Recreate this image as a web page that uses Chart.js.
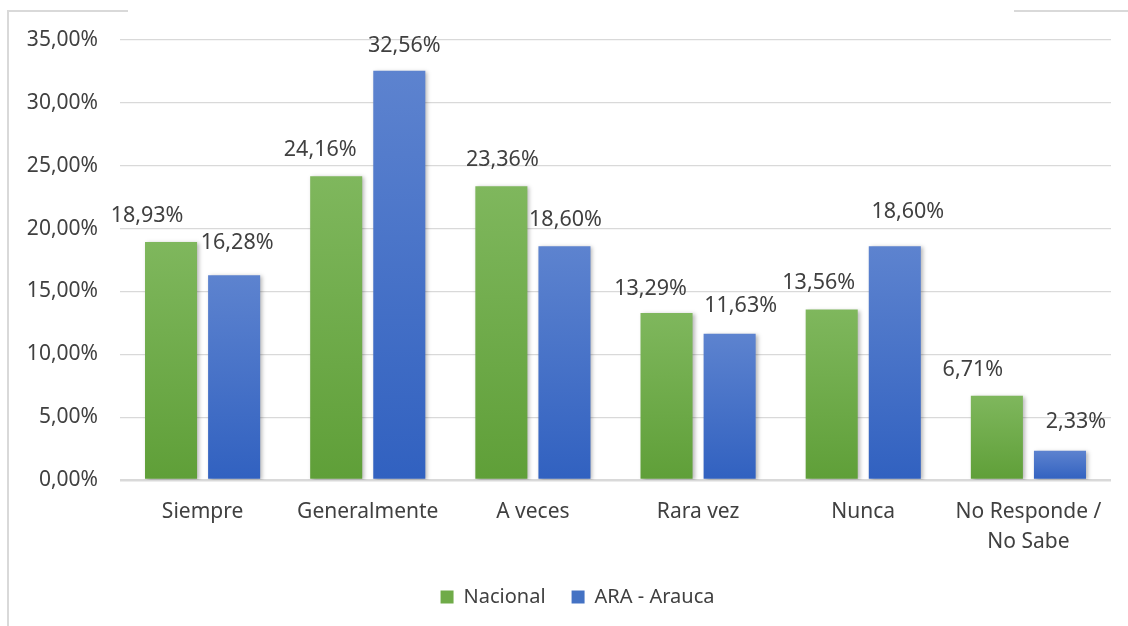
<!DOCTYPE html>
<html lang="es">
<head>
    <meta charset="UTF-8">
    <title>Frecuencia - Nacional vs ARA - Arauca</title>
    <script src="https://cdn.jsdelivr.net/npm/chart.js"></script>
    <style>
        body {
            margin: 0;
            padding: 0;
            background: #fff;
        }

        .wrap {
            position: relative;
            width: 1128px;
            height: 626px;
        }

        /* restos del marco gris del recuadro */
        .frame-left {
            position: absolute;
            left: 7px;
            top: 10px;
            width: 2px;
            height: 616px;
            background: #d9d9d9;
        }

        .frame-top1 {
            position: absolute;
            left: 7px;
            top: 10px;
            width: 121px;
            height: 2px;
            background: #d9d9d9;
        }

        .frame-top2 {
            position: absolute;
            left: 1014px;
            top: 10px;
            width: 114px;
            height: 2px;
            background: #d9d9d9;
        }

        canvas {
            position: absolute;
            left: 0;
            top: 0;
        }
    </style>
</head>
<body>
    <div class="wrap">
        <canvas id="grafico" width="1128" height="626"></canvas>
        <div class="frame-left"></div>
        <div class="frame-top1"></div>
        <div class="frame-top2"></div>
    </div>

    <script>
        // Datos
        const categorias = ['Siempre', 'Generalmente', 'A veces', 'Rara vez', 'Nunca', ['No Responde /', 'No Sabe']];
        const nacional = [18.93, 24.16, 23.36, 13.29, 13.56, 6.71];
        const arauca = [16.28, 32.56, 18.60, 11.63, 18.60, 2.33];
        const ticksY = [0, 5, 10, 15, 20, 25, 30, 35];

        const fmt = v => v.toFixed(2).replace('.', ',') + '%';
        const texto = '#404040';
        const fuente = "'Noto Sans', sans-serif";

        // degradado vertical por barra (más claro arriba)
        function degradado(arriba, abajo) {
            return function (ctx) {
                const chart = ctx.chart;
                if (!chart.chartArea || ctx.raw === undefined) return abajo;
                const y = chart.scales.y;
                const g = chart.ctx.createLinearGradient(0, y.getPixelForValue(ctx.raw), 0, y.getPixelForValue(0));
                g.addColorStop(0, arriba);
                g.addColorStop(1, abajo);
                return g;
            };
        }

        // sombra de las barras + etiquetas de valor
        const etiquetas = {
            id: 'etiquetas',
            afterLayout(chart) {
                // la leyenda va un poco corrida a la derecha
                chart.legend.left += 22;
                chart.legend.right += 22;
            },
            beforeDatasetsDraw(chart) {
                const c = chart.ctx;
                c.save();
                c.shadowColor = 'rgba(0,0,0,0.28)';
                c.shadowBlur = 4;
                c.shadowOffsetX = 2;
                c.shadowOffsetY = 1;
            },
            afterDatasetsDraw(chart, args, opts) {
                const c = chart.ctx;
                c.restore();
                c.save();
                c.font = '21.5px ' + fuente;
                c.fillStyle = texto;
                c.textAlign = 'center';
                c.textBaseline = 'middle';
                chart.data.datasets.forEach((ds, i) => {
                    const meta = chart.getDatasetMeta(i);
                    meta.data.forEach((bar, j) => {
                        const dx = opts.dx[i][j];
                        const dy = opts.dy[i][j];
                        c.fillText(fmt(ds.data[j]), bar.x + dx, bar.y - dy);
                    });
                });
                c.restore();
            }
        };

        new Chart(document.getElementById('grafico'), {
            type: 'bar',
            data: {
                labels: categorias,
                datasets: [
                    {
                        label: 'Nacional',
                        data: nacional,
                        backgroundColor: degradado('#7fb75d', '#5f9f38')
                    },
                    {
                        label: 'ARA - Arauca',
                        data: arauca,
                        backgroundColor: degradado('#5d83cf', '#3161c0')
                    }
                ]
            },
            options: {
                responsive: false,
                animation: false,
                datasets: {
                    bar: {
                        categoryPercentage: 0.764,
                        barPercentage: 0.825
                    }
                },
                layout: {
                    padding: { left: 0, right: 17, top: 40, bottom: 9 }
                },
                scales: {
                    x: {
                        grid: { display: false },
                        border: { display: false },
                        ticks: {
                            color: texto,
                            font: { family: fuente, size: 21, lineHeight: 1.43 },
                            padding: 9,
                            maxRotation: 0,
                            autoSkip: false
                        },
                        afterFit(scale) {
                            scale.height = 81;
                        }
                    },
                    y: {
                        min: 0,
                        max: 35,
                        border: { display: false },
                        grid: {
                            drawTicks: false,
                            color: '#d9d9d9',
                            lineWidth: ctx => (ctx.tick && ctx.tick.value === 0 ? 2.5 : 1.2)
                        },
                        afterBuildTicks(scale) {
                            scale.ticks = ticksY.map(v => ({ value: v }));
                        },
                        ticks: {
                            color: texto,
                            font: { family: fuente, size: 21 },
                            padding: 22,
                            callback: v => fmt(v)
                        },
                        afterFit(scale) {
                            scale.width = 120;
                        }
                    }
                },
                plugins: {
                    legend: {
                        position: 'bottom',
                        labels: {
                            color: texto,
                            font: { family: fuente, size: 20 },
                            boxWidth: 13,
                            boxHeight: 13,
                            padding: 26,
                            generateLabels(chart) {
                                const cols = ['#6fab48', '#4472c4'];
                                return chart.data.datasets.map((ds, i) => ({
                                    text: ds.label,
                                    fillStyle: cols[i],
                                    strokeStyle: cols[i],
                                    lineWidth: 0,
                                    datasetIndex: i,
                                    fontColor: texto
                                }));
                            }
                        }
                    },
                    tooltip: { enabled: false },
                    etiquetas: {
                        dx: [
                            [-24, -16, 1, -16, -13, -24],
                            [3, 5, 1, 11, 13, 16]
                        ],
                        dy: [
                            [26, 26, 26, 24, 27, 26],
                            [32, 25, 26, 28, 34, 29]
                        ]
                    }
                }
            },
            plugins: [etiquetas]
        });
    </script>
</body>
</html>
